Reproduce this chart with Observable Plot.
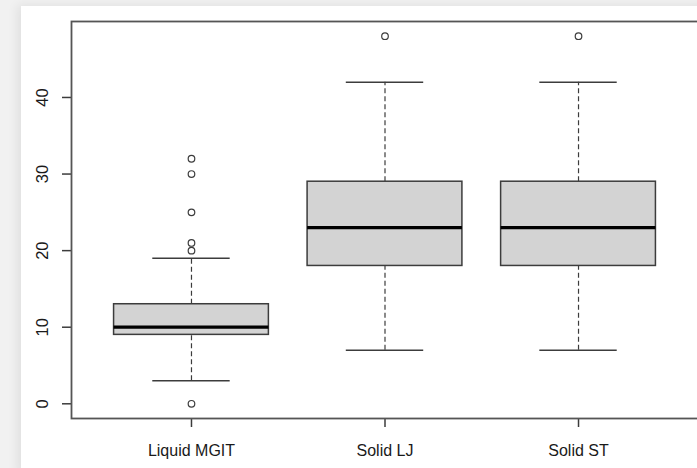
<!DOCTYPE html>
<html>
<head>
<meta charset="utf-8">
<script src="https://cdn.jsdelivr.net/npm/d3@7"></script>
<script src="https://cdn.jsdelivr.net/npm/@observablehq/plot@0.6"></script>
<style>
  html, body { margin: 0; padding: 0; width: 697px; height: 468px; overflow: hidden; background: #f1f1f1; }
  #panel { position: absolute; left: 21px; top: 6px; width: 700px; height: 470px; background: #ffffff;
           box-shadow: -4px -1px 10px rgba(0,0,0,0.07); }
  #chart { position: absolute; left: 0; top: 0; }
</style>
</head>
<body>
<div id="panel"></div>
<div id="chart"></div>
<script>
// Data
const groups = ["Liquid MGIT", "Solid LJ", "Solid ST"];
const lowerWhisker = [3, 7, 7];
const q1 = [9, 18, 18];
const median = [10, 23, 23];
const q3 = [13, 29, 29];
const upperWhisker = [19, 42, 42];
const outlierGroup = ["Liquid MGIT", "Liquid MGIT", "Liquid MGIT", "Liquid MGIT", "Liquid MGIT", "Liquid MGIT", "Solid LJ", "Solid ST"];
const outlierValue = [0, 20, 21, 25, 30, 32, 48, 48];
const yTicks = [0, 10, 20, 30, 40];

const stats = groups.map((g, i) => ({
  group: g, pos: i + 1,
  lo: lowerWhisker[i], q1: q1[i], med: median[i], q3: q3[i], hi: upperWhisker[i]
}));
const outliers = outlierValue.map((v, i) => ({ pos: groups.indexOf(outlierGroup[i]) + 1, value: v }));

const boxHalf = 0.4, capHalf = 0.2;
const ink = "#3c3c3c";

const chart = Plot.plot({
  width: 699,
  height: 468,
  marginLeft: 71,
  marginRight: 1,
  marginTop: 21,
  marginBottom: 50,
  style: { background: "transparent", fontFamily: "'Liberation Sans', Arial, sans-serif", maxWidth: "none", color: "#1a1a1a" },
  x: { type: "linear", domain: [0.38, 3.62] },
  y: { domain: [-1.92, 49.92] },
  marks: [
    // whiskers (dashed)
    Plot.ruleX(stats, { x: "pos", y1: "q3", y2: "hi", stroke: ink, strokeWidth: 1.2, strokeDasharray: "5,3" }),
    Plot.ruleX(stats, { x: "pos", y1: "lo", y2: "q1", stroke: ink, strokeWidth: 1.2, strokeDasharray: "5,3" }),
    // caps
    Plot.ruleY(stats, { y: "hi", x1: d => d.pos - capHalf, x2: d => d.pos + capHalf, stroke: ink, strokeWidth: 1.5 }),
    Plot.ruleY(stats, { y: "lo", x1: d => d.pos - capHalf, x2: d => d.pos + capHalf, stroke: ink, strokeWidth: 1.5 }),
    // boxes
    Plot.rect(stats, { x1: d => d.pos - boxHalf, x2: d => d.pos + boxHalf, y1: "q1", y2: "q3", fill: "#d3d3d3", stroke: ink, strokeWidth: 1.5 }),
    // medians
    Plot.ruleY(stats, { y: "med", x1: d => d.pos - boxHalf, x2: d => d.pos + boxHalf, stroke: "#000", strokeWidth: 3.2 }),
    // outliers
    Plot.dot(outliers, { x: "pos", y: "value", r: 3.3, stroke: ink, fill: "none", strokeWidth: 1.2 }),
    // axes
    Plot.axisY({ ticks: yTicks, tickSize: 9, tickPadding: 15, tickRotate: -90, fontSize: 16.5, stroke: ink, strokeWidth: 1.5, label: null }),
    Plot.axisX({ ticks: [1, 2, 3], tickFormat: d => groups[d - 1], tickSize: 9, tickPadding: 17, fontSize: 16, stroke: ink, strokeWidth: 1.5, label: null }),
    Plot.frame({ stroke: "#555", strokeWidth: 1.8 })
  ]
});
document.getElementById("chart").appendChild(chart);
</script>
</body>
</html>
